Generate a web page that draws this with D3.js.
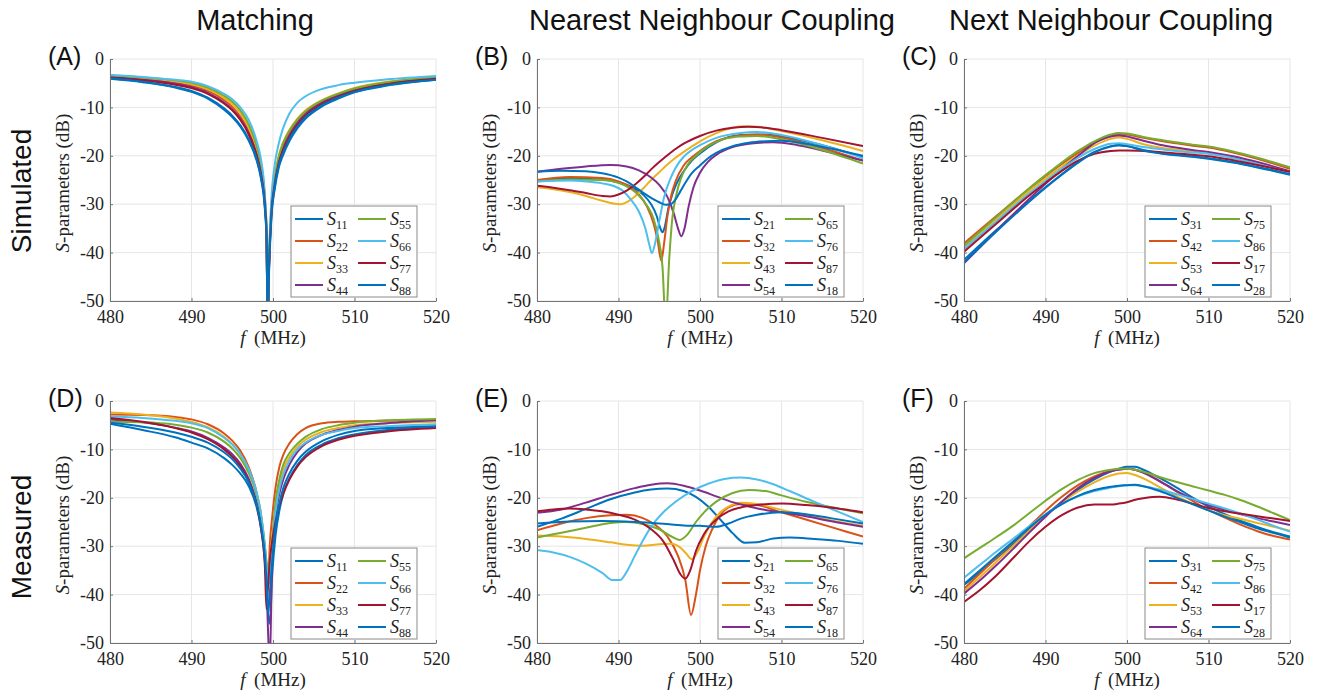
<!DOCTYPE html>
<html>
<head>
<meta charset="utf-8">
<script src="https://cdn.jsdelivr.net/npm/d3@7"></script>
<style>
  body { margin: 0; background: #fff; }
  svg { display: block; }
</style>
</head>
<body>
<svg id="fig" width="1317" height="697"></svg>
<script>
// ---- shared axis definitions ----
const freqTicks = [480, 490, 500, 510, 520];
const dbTicks = [0, -10, -20, -30, -40, -50];
const columnTitles = ["Matching", "Nearest Neighbour Coupling", "Next Neighbour Coupling"];
const rowTitles = ["Simulated", "Measured"];
const panelLetters = ["A", "B", "C", "D", "E", "F"];

// legend subscripts per column
const matchLabels = ["11", "22", "33", "44", "55", "66", "77", "88"];
const nearestLabels = ["21", "32", "43", "54", "65", "76", "87", "18"];
const nextLabels = ["31", "42", "53", "64", "75", "86", "17", "28"];

// ---- (A) simulated matching, dB on a shared frequency grid (MHz) ----
const simMatchFreq = [480, 484, 488, 490, 492, 494, 495, 496, 497, 498, 498.5, 499, 499.2, 499.35, 499.5, 499.8, 500.2, 500.7, 501.2, 502, 503, 504, 506, 508, 510, 514, 520];
const simMatchValues = [
  [-4.1,-4.8,-5.9,-6.8,-8.2,-10.5,-12.0,-14.0,-16.8,-21.0,-24.5,-31,-37,-55,-45,-33,-27,-22.5,-20,-17,-14.3,-12.3,-9.8,-8.2,-6.9,-5.5,-4.3],
  [-3.6,-4.1,-4.9,-5.5,-6.6,-8.5,-9.9,-11.9,-14.8,-19.3,-22.8,-29.5,-35.5,-55,-43,-31,-25,-20.5,-18,-15.3,-12.8,-11.0,-8.8,-7.3,-6.2,-4.9,-3.9],
  [-3.5,-3.9,-4.6,-5.2,-6.2,-8.0,-9.3,-11.2,-14.0,-18.6,-22.2,-29,-35,-55,-42.5,-30.5,-24.5,-20,-17.4,-14.7,-12.3,-10.6,-8.5,-7.1,-6.0,-4.7,-3.8],
  [-3.7,-4.3,-5.1,-5.8,-7.0,-9.0,-10.4,-12.4,-15.3,-19.8,-23.3,-29.8,-35.8,-55,-43.5,-31.5,-25.5,-21,-18.5,-15.8,-13.2,-11.3,-9.0,-7.5,-6.4,-5.0,-4.0],
  [-3.4,-3.8,-4.4,-4.9,-5.9,-7.6,-8.8,-10.6,-13.4,-18.0,-21.6,-28.6,-35,-55,-43,-31,-25,-20.3,-17.6,-14.9,-12.5,-10.8,-8.6,-7.2,-6.1,-4.8,-3.8],
  [-3.3,-3.7,-4.3,-4.7,-5.6,-7.2,-8.3,-10.0,-12.5,-17.0,-20.5,-28,-35,-55,-42,-29,-22,-17.5,-14.5,-11.3,-9.0,-7.7,-6.2,-5.4,-4.9,-4.2,-3.5],
  [-3.8,-4.4,-5.3,-6.0,-7.2,-9.2,-10.6,-12.6,-15.5,-20.0,-23.5,-30,-36,-55,-44,-32,-26,-21.5,-19,-16.2,-13.6,-11.7,-9.3,-7.8,-6.6,-5.2,-4.1],
  [-4.0,-4.7,-5.8,-6.6,-8.0,-10.2,-11.7,-13.7,-16.5,-20.7,-24.2,-30.5,-36.5,-55,-44,-32.5,-26.5,-22,-19.6,-16.6,-14.0,-12.0,-9.6,-8.0,-6.8,-5.4,-4.3]
];

// ---- (B) simulated nearest neighbour coupling, [MHz, dB] ----
const simNearest = [
  [[480,-25.2],[484,-24.7],[488,-24.9],[490,-25.5],[492,-26.8],[493,-28],[494,-30],[494.7,-32.5],[495.1,-34.8],[495.4,-35.8],[495.7,-34.5],[496.1,-31],[496.6,-28],[497.2,-25.5],[498,-23.2],[499,-21],[500,-19.5],[502,-17.2],[505,-15.7],[508,-15.6],[511,-16.3],[515,-17.8],[520,-20.3]],
  [[480,-25],[484,-24.4],[488,-24.6],[490,-25.3],[491.5,-26.5],[492.5,-28],[493.5,-30.5],[494.3,-34],[494.8,-37.5],[495.25,-41.7],[495.6,-38],[496,-32.5],[496.5,-28],[497,-25.3],[498,-22],[499,-20.3],[500,-19],[502,-17],[505,-15.8],[507,-15.6],[510,-16.2],[515,-18.4],[520,-21]],
  [[480,-26.5],[482,-26.9],[484,-27.5],[486,-28.3],[488,-29.3],[489.5,-29.9],[490.3,-30],[491,-29.6],[492,-28.4],[493,-26.8],[494,-25],[495,-23.4],[496,-21.8],[497,-20.4],[498,-19.2],[500,-17],[502,-15.3],[504,-14.2],[505.5,-13.9],[507,-14],[510,-14.9],[515,-16.8],[520,-19]],
  [[480,-23.3],[483,-22.7],[486,-22.2],[489,-21.9],[491,-22.2],[492.5,-23],[494,-24.5],[495,-26],[496,-28.5],[496.8,-32],[497.3,-35],[497.7,-36.6],[498.1,-35],[498.6,-30.5],[499.2,-26.5],[500,-23.5],[501,-21.2],[502,-19.8],[504,-18.2],[506,-17.5],[509,-17.2],[512,-17.8],[516,-19.3],[520,-21]],
  [[480,-25.3],[484,-24.9],[488,-25],[490,-25.6],[491.5,-26.8],[492.5,-28.2],[493.5,-30.3],[494.3,-33],[494.9,-37],[495.4,-43],[495.8,-55],[496.2,-42],[496.6,-33],[497.1,-28],[497.7,-24.5],[498.5,-21.8],[499.5,-20],[501,-18],[503,-16.5],[505,-16],[507,-15.9],[510,-16.6],[515,-18.8],[520,-21.6]],
  [[480,-25.3],[484,-25.1],[486,-25.3],[488,-25.7],[489.5,-26.3],[490.5,-27.2],[491.5,-29],[492.5,-31.5],[493.3,-35],[493.8,-38.5],[494.1,-40.1],[494.5,-38],[495,-33.5],[495.6,-28.5],[496.3,-25],[497,-22.5],[498,-20.2],[499,-18.8],[500,-17.8],[502,-16.3],[505,-15.3],[507,-15.1],[510,-15.7],[515,-17.8],[520,-20.5]],
  [[480,-26.2],[482,-26.6],[484,-27.1],[486,-27.7],[488,-28.3],[489,-28.4],[490,-28],[491,-27.2],[492,-26],[493,-24.5],[494,-22.8],[495,-21.3],[496,-19.9],[497,-18.6],[498,-17.5],[500,-15.9],[502,-14.8],[504,-14.2],[506,-14],[508,-14.2],[510,-14.7],[515,-16.3],[520,-18]],
  [[480,-23.3],[483,-23.1],[486,-23.2],[488,-23.6],[490,-24.5],[491,-25.3],[492,-26.4],[493,-27.6],[494,-28.7],[495,-29.6],[495.8,-30.1],[496.4,-30],[497,-29],[497.6,-27.3],[498.3,-25.3],[499,-23.6],[500,-22],[501,-20.5],[502,-19.4],[504,-18],[506,-17.3],[508,-17],[510,-16.9],[513,-17.5],[516,-18.5],[520,-20]]
];

// ---- (C) simulated next neighbour coupling ----
const simNextFreq = [480, 484, 488, 490, 492, 494, 496, 498, 499, 500, 502, 504, 506, 508, 510, 513, 516, 520];
const simNextValues = [
  [-41.5,-35.3,-29.3,-26.5,-23.8,-21.3,-19.2,-18.0,-17.8,-18.0,-18.8,-19.4,-19.8,-20.1,-20.5,-21.3,-22.3,-23.7],
  [-38.1,-32.4,-26.8,-24.2,-21.7,-19.4,-17.3,-15.9,-15.5,-15.6,-16.3,-16.9,-17.4,-17.9,-18.3,-19.3,-20.6,-22.7],
  [-38.8,-33.0,-27.3,-24.7,-22.2,-19.9,-17.9,-16.5,-16.2,-16.5,-17.6,-18.3,-18.7,-19.1,-19.5,-20.3,-21.5,-23.3],
  [-42.2,-35.5,-28.9,-25.8,-22.8,-20.0,-17.4,-16.0,-15.8,-16.0,-16.9,-17.7,-18.3,-18.8,-19.2,-20.1,-21.3,-23.2],
  [-38.6,-32.6,-26.7,-24.0,-21.4,-19.0,-17.0,-15.6,-15.3,-15.4,-16.1,-16.7,-17.2,-17.7,-18.1,-19.1,-20.4,-22.4],
  [-39.2,-33.5,-27.8,-25.2,-22.7,-20.4,-18.6,-17.5,-17.4,-17.6,-18.2,-18.6,-19.0,-19.3,-19.6,-20.5,-21.7,-23.4],
  [-39.8,-34.0,-28.2,-25.6,-23.1,-21.0,-19.6,-19.0,-18.9,-18.9,-19.0,-19.2,-19.5,-19.8,-20.1,-20.9,-21.9,-23.3],
  [-42.0,-35.6,-29.5,-26.6,-23.9,-21.4,-19.3,-18.1,-17.8,-18.0,-18.9,-19.5,-19.9,-20.2,-20.6,-21.4,-22.4,-23.9]
];

// ---- (D) measured matching ----
const measMatchFreq = [480, 484, 488, 490, 492, 494, 495, 496, 497, 498, 498.5, 499, 499.2, 499.4, 499.6, 499.9, 500.3, 500.8, 501.3, 502, 503, 504, 506, 508, 510, 514, 520];
const measMatchValues = [
  [-4.7,-6.0,-7.5,-8.6,-9.8,-11.8,-13.2,-15.0,-17.5,-22,-26,-33,-38,-44,-46,-36,-28,-22.5,-19,-16,-13.2,-11.2,-9.0,-7.7,-6.9,-6.0,-5.3],
  [-2.8,-2.9,-3.3,-3.8,-4.8,-6.7,-8.2,-10.3,-13.6,-19,-23.5,-31,-36,-38,-30,-24,-18,-13.5,-11,-8.8,-6.8,-5.6,-4.6,-4.3,-4.2,-4.1,-3.9],
  [-2.4,-2.8,-3.6,-4.3,-5.4,-7.4,-8.9,-11.0,-14.2,-19.2,-23,-30,-34,-36,-33,-28,-22,-17,-14,-11.6,-9.4,-8.0,-6.4,-5.6,-5.0,-4.6,-4.3],
  [-3.8,-4.4,-5.5,-6.3,-7.6,-9.6,-11.0,-13.0,-16.0,-21,-25,-32,-38,-48,-55,-32,-24,-19,-16,-13.2,-10.5,-8.8,-7.0,-6.0,-5.3,-4.6,-4.0],
  [-4.3,-4.4,-4.9,-5.5,-6.5,-8.4,-9.8,-11.8,-14.8,-19.5,-23.5,-30,-33,-35,-35,-29,-21,-16,-13,-10.8,-8.8,-7.4,-5.8,-5.0,-4.5,-4.0,-3.7],
  [-3.2,-3.5,-4.1,-4.6,-5.6,-7.6,-9.0,-11.0,-14,-19,-23,-30,-34,-38,-37,-30,-23,-18,-15,-12.4,-10.0,-8.6,-7.0,-6.2,-5.6,-5.2,-4.8],
  [-3.5,-4.3,-5.6,-6.5,-7.9,-10.0,-11.5,-13.5,-16.5,-21.5,-26,-34,-43,-38,-33,-29,-25,-21.5,-19,-16.3,-13.5,-11.6,-9.3,-8.0,-7.2,-6.3,-5.6],
  [-4.5,-5.3,-6.5,-7.4,-8.6,-10.6,-12.0,-14.0,-16.7,-21.5,-25.5,-32,-37,-44,-40,-33,-26,-21,-17.8,-15,-12.3,-10.5,-8.3,-7.0,-6.2,-5.6,-5.2]
];

// ---- (E) measured nearest neighbour coupling, [MHz, dB] ----
const measNearest = [
  [[480,-26],[483,-24.3],[486,-22.3],[489,-20.3],[492,-18.9],[494,-18.3],[496,-18.1],[498,-18.6],[499.5,-19.8],[501,-21.8],[502.5,-24.5],[504,-27.3],[505.5,-29.3],[507,-29.2],[509,-28.4],[511,-28.2],[514,-28.5],[517,-28.9],[520,-29.5]],
  [[480,-26.7],[483,-25.3],[486,-24.2],[489,-23.6],[491,-23.5],[493,-24.2],[494.5,-25.6],[496,-28],[497.3,-32],[498.2,-37],[498.9,-44.2],[499.5,-40],[500,-35],[500.7,-30],[501.5,-26.5],[502.5,-23.5],[503.5,-22],[505,-21.3],[507,-21.5],[510,-23],[513,-24.5],[516,-26],[520,-28]],
  [[480,-27.8],[483,-28],[486,-28.5],[489,-29.2],[491,-29.7],[493,-29.9],[495,-29.6],[496.5,-29.5],[497.5,-30.2],[498.3,-31.5],[499,-32.7],[499.6,-31.5],[500.5,-28],[501.5,-25],[502.5,-23],[503.5,-21.8],[505,-21],[507,-21.3],[510,-22.5],[515,-24.3],[520,-25.8]],
  [[480,-23.1],[483,-22.4],[486,-21],[489,-19.4],[492,-18],[494,-17.3],[496,-17],[498,-17.5],[500,-18.5],[502,-19.7],[504,-20.9],[506,-21.8],[508,-22.5],[510,-23],[513,-23.8],[516,-24.8],[520,-26]],
  [[480,-28.2],[483,-27.2],[486,-26.2],[489,-25.2],[491,-25],[493,-25.4],[495,-26.5],[496.5,-28],[497.5,-28.7],[498.5,-27.5],[499.5,-25],[500.5,-23],[502,-20.8],[504,-19],[506,-18.4],[508,-18.6],[510,-19.5],[513,-20.8],[516,-21.9],[520,-23.2]],
  [[480,-30.8],[482,-31.3],[484,-32.2],[486,-33.6],[488,-35.5],[489.3,-37],[490.2,-37],[491,-35.3],[492,-32],[493,-28.8],[494,-26],[495.5,-23],[497,-20.8],[499,-18.6],[501,-17.1],[503,-16.1],[505,-15.8],[507,-16.2],[509,-17.2],[511,-18.6],[514,-20.8],[517,-22.9],[520,-25]],
  [[480,-22.8],[482,-22.4],[484,-22.2],[486,-22.4],[488,-22.8],[490,-23.5],[492,-24.5],[494,-26.5],[495.5,-29],[496.8,-33],[497.6,-35.8],[498.2,-36.7],[498.8,-35],[499.5,-31],[500.5,-27.5],[502,-24.5],[503.5,-22.8],[505,-22],[507,-21.5],[510,-21.2],[513,-21.5],[516,-22],[520,-23]],
  [[480,-25.3],[484,-24.9],[488,-24.8],[492,-25],[495,-25.3],[498,-25.7],[500,-25.8],[502,-26],[503.5,-25.3],[505,-24.3],[507,-23.5],[510,-23],[513,-23.4],[516,-24.2],[520,-25.3]]
];

// ---- (F) measured next neighbour coupling ----
const measNextFreq = [480, 482, 484, 486, 488, 490, 492, 494, 496, 498, 499, 500, 501, 502, 504, 506, 508, 510, 512, 514, 516, 518, 520];
const measNextValues = [
  [-38.0,-35.3,-32.5,-29.6,-26.6,-23.6,-20.8,-18.3,-16.2,-14.6,-14.0,-13.6,-13.6,-14.2,-15.9,-17.8,-19.9,-21.8,-23.4,-24.8,-26.0,-27.1,-28.0],
  [-38.8,-35.6,-32.4,-29.2,-25.9,-22.7,-19.8,-17.4,-15.6,-14.4,-14.1,-14.0,-14.2,-14.8,-16.5,-18.6,-20.6,-22.5,-24.1,-25.6,-26.9,-27.9,-28.6],
  [-39.3,-36.3,-33.2,-30.0,-26.8,-23.7,-21.0,-18.7,-16.8,-15.4,-15.0,-14.9,-15.3,-16.0,-17.8,-19.6,-21.2,-22.6,-23.6,-24.4,-25.2,-26.0,-26.8],
  [-39.8,-37.0,-33.9,-30.6,-27.2,-23.9,-20.8,-18.0,-15.9,-14.5,-14.2,-14.0,-14.2,-14.8,-16.6,-18.5,-20.2,-21.5,-22.5,-23.4,-24.2,-24.9,-25.6],
  [-32.5,-30.3,-28.1,-25.8,-23.2,-20.6,-18.2,-16.3,-14.9,-14.2,-14.0,-14.0,-14.2,-14.6,-15.7,-16.7,-17.6,-18.5,-19.4,-20.5,-21.8,-23.2,-24.6],
  [-36.5,-33.8,-31.1,-28.5,-25.9,-23.4,-21.3,-19.7,-18.6,-17.9,-17.6,-17.4,-17.4,-17.6,-18.3,-19.2,-20.2,-21.2,-22.2,-23.3,-24.5,-25.8,-27.0],
  [-41.5,-39.0,-36.0,-32.5,-29.0,-26.0,-23.6,-22.0,-21.4,-21.4,-21.2,-20.9,-20.4,-20.1,-19.8,-20.3,-21.2,-22.1,-22.8,-23.3,-23.8,-24.3,-24.8],
  [-37.8,-34.9,-32.0,-29.1,-26.2,-23.5,-21.3,-19.6,-18.4,-17.7,-17.5,-17.4,-17.3,-17.6,-18.6,-19.9,-21.3,-22.6,-23.9,-25.1,-26.3,-27.3,-28.2]
];

// line colours in plotting order (default MATLAB palette, 8th wraps to the first)
const lineColors = ["#0072BD", "#D95319", "#EDB120", "#7E2F8E", "#77AC30", "#4DBEEE", "#A2142F", "#0072BD"];

// ---- build the figure ----
const zipGrid = (freq, values) => values.map(v => v.map((d, i) => [freq[i], d]));

const panels = [
  { letter: panelLetters[0], row: 0, col: 0, series: zipGrid(simMatchFreq, simMatchValues), labels: matchLabels },
  { letter: panelLetters[1], row: 0, col: 1, series: simNearest, labels: nearestLabels },
  { letter: panelLetters[2], row: 0, col: 2, series: zipGrid(simNextFreq, simNextValues), labels: nextLabels },
  { letter: panelLetters[3], row: 1, col: 0, series: zipGrid(measMatchFreq, measMatchValues), labels: matchLabels },
  { letter: panelLetters[4], row: 1, col: 1, series: measNearest, labels: nearestLabels },
  { letter: panelLetters[5], row: 1, col: 2, series: zipGrid(measNextFreq, measNextValues), labels: nextLabels }
];

const SANS = "'Liberation Sans', Arial, Helvetica, sans-serif";
const SERIF = "'Liberation Serif', 'Times New Roman', serif";

const svg = d3.select("#fig");
const plotW = 326, plotH = 242;
const colLeft = [110, 537, 964];
const rowTop = [59, 401];

const x = d3.scaleLinear().domain([480, 520]).range([0, plotW]);
const y = d3.scaleLinear().domain([-50, 0]).range([plotH, 0]);
const line = d3.line().x(d => x(d[0])).y(d => y(d[1])).curve(d3.curveMonotoneX);

const defs = svg.append("defs");

// column and row titles
const titleCenters = [255, 712, 1111];
columnTitles.forEach((t, i) => {
  svg.append("text").attr("x", titleCenters[i]).attr("y", 30)
    .attr("text-anchor", "middle").style("font-family", SANS).style("font-size", "29px")
    .attr("fill", "#111").text(t);
});
const rowCenters = [191, 537];
rowTitles.forEach((t, i) => {
  svg.append("text").attr("transform", `translate(31,${rowCenters[i]}) rotate(-90)`)
    .attr("text-anchor", "middle").style("font-family", SANS).style("font-size", "28px")
    .attr("fill", "#111").text(t);
});

panels.forEach(p => {
  const left = colLeft[p.col], top = rowTop[p.row];
  const g = svg.append("g").attr("transform", `translate(${left},${top})`);

  // grid
  g.append("g").selectAll("line.gx").data(freqTicks).join("line").attr("class", "gx")
    .attr("x1", d => x(d)).attr("x2", d => x(d)).attr("y1", 0).attr("y2", plotH)
    .attr("stroke", "#e6e6e6").attr("stroke-width", 1);
  g.append("g").selectAll("line.gy").data(dbTicks).join("line").attr("class", "gy")
    .attr("x1", 0).attr("x2", plotW).attr("y1", d => y(d)).attr("y2", d => y(d))
    .attr("stroke", "#e6e6e6").attr("stroke-width", 1);

  // curves, clipped to the plotting area
  const clipId = "clip" + p.letter;
  defs.append("clipPath").attr("id", clipId)
    .append("rect").attr("x", 0).attr("y", -2).attr("width", plotW).attr("height", plotH + 2);
  g.append("g").attr("clip-path", `url(#${clipId})`)
    .selectAll("path").data(p.series).join("path")
    .attr("d", line).attr("fill", "none")
    .attr("stroke", (d, k) => lineColors[k]).attr("stroke-width", 2)
    .attr("stroke-linejoin", "round");

  // axes
  const xAxis = d3.axisBottom(x).tickValues(freqTicks).tickSizeInner(-3).tickSizeOuter(0).tickPadding(9).tickFormat(d3.format("d"));
  const yAxis = d3.axisLeft(y).tickValues(dbTicks).tickSizeInner(-3).tickSizeOuter(0).tickPadding(6).tickFormat(d => String(d));
  const gx = g.append("g").attr("transform", `translate(0,${plotH})`).call(xAxis);
  const gy = g.append("g").call(yAxis);
  [gx, gy].forEach(a => {
    a.attr("font-family", null).attr("font-size", null);
    a.select(".domain").attr("stroke", "#737373");
    a.selectAll(".tick line").attr("stroke", "#737373");
    a.selectAll(".tick text").style("font-family", SERIF).style("font-size", "18px").attr("fill", "#222");
  });

  // axis labels
  const xl = g.append("text").attr("x", plotW / 2).attr("y", plotH + 43)
    .attr("text-anchor", "middle").style("font-family", SERIF).style("font-size", "19px").attr("fill", "#222");
  xl.append("tspan").attr("font-style", "italic").text("f");
  xl.append("tspan").text("\u2009 (MHz)");
  const yl = g.append("text").attr("transform", `translate(-41,${plotH / 2 + 3}) rotate(-90)`)
    .attr("text-anchor", "middle").style("font-family", SERIF).style("font-size", "19px").attr("fill", "#222");
  yl.append("tspan").attr("font-style", "italic").text("S");
  yl.append("tspan").text("-parameters (dB)");

  // panel letter
  g.append("text").attr("x", -62).attr("y", 6).style("font-family", SANS).style("font-size", "25px")
    .attr("fill", "#111").text(`(${p.letter})`);

  // legend
  const legW = 126, legH = 91;
  const lg = g.append("g").attr("transform", `translate(${plotW - 19 - legW},${plotH - 4 - legH})`);
  lg.append("rect").attr("width", legW).attr("height", legH)
    .attr("fill", "#fff").attr("stroke", "#8a8a8a").attr("stroke-width", 1);
  p.labels.forEach((lab, k) => {
    const c = k < 4 ? 0 : 1, r = k % 4;
    const lx = c === 0 ? 4 : 67;
    const ly = 13 + r * 22;
    lg.append("line").attr("x1", lx).attr("x2", lx + 28).attr("y1", ly).attr("y2", ly)
      .attr("stroke", lineColors[k]).attr("stroke-width", 2);
    const t = lg.append("text").attr("x", lx + 32).attr("y", ly + 6)
      .style("font-family", SERIF).style("font-size", "18px").attr("fill", "#222");
    t.append("tspan").attr("font-style", "italic").text("S");
    t.append("tspan").style("font-size", "12px").attr("dy", 4).text(lab);
  });
});
</script>
</body>
</html>
